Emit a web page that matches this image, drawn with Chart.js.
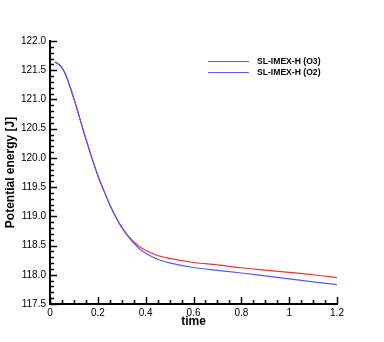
<!DOCTYPE html>
<html>
<head>
<meta charset="utf-8">
<script src="https://cdn.jsdelivr.net/npm/chart.js@4/dist/chart.umd.min.js"></script>
<style>
html,body{margin:0;padding:0;background:#fff;}
#wrap{width:384px;height:342px;}
</style>
</head>
<body>
<div id="wrap"><canvas id="c" width="384" height="342"></canvas></div>
<script>
const time = [0.02,0.03,0.04,0.05,0.06,0.07,0.08,0.09,0.10,0.11,0.12,0.13,0.14,0.15,0.175,0.20,0.225,0.25,0.275,0.30,0.325,0.35,0.375,0.40,0.45,0.50,0.60,0.70,0.80,0.90,1.00,1.10,1.20];
const o3   = [121.64,121.62,121.59,121.54,121.47,121.38,121.26,121.14,121.01,120.88,120.74,120.60,120.46,120.325,120.00,119.70,119.44,119.20,118.99,118.815,118.675,118.565,118.48,118.42,118.33,118.28,118.21,118.17,118.12,118.08,118.04,118.00,117.95];
const o2   = [121.64,121.62,121.59,121.54,121.47,121.38,121.26,121.14,121.01,120.88,120.74,120.60,120.46,120.325,120.00,119.70,119.44,119.20,118.99,118.81,118.665,118.54,118.44,118.37,118.265,118.205,118.125,118.075,118.03,117.98,117.93,117.88,117.83];
const seriesLabels = ['SL-IMEX-H (O3)','SL-IMEX-H (O2)'];
const xTicks = [0,0.2,0.4,0.6,0.8,1.0,1.2];
const yTicks = [117.5,118.0,118.5,119.0,119.5,120.0,120.5,121.0,121.5,122.0];

const FONT = '"Liberation Sans", Arial, Helvetica, sans-serif';
const pts = (ys) => time.map((t,i)=>({x:t,y:ys[i]}));

const inwardTicks = {
  id:'inwardTicks',
  afterDatasetsDraw(chart){
    const {ctx, chartArea:a, scales:{x,y}} = chart;
    ctx.save();
    ctx.strokeStyle='#000';
    ctx.lineWidth=1.5;
    for(let i=0;i<=24;i++){
      const v=i*0.05; const px=Math.round(x.getPixelForValue(v))+0.5;
      const len = (i%4===0)?7:4;
      ctx.beginPath(); ctx.moveTo(px,a.bottom); ctx.lineTo(px,a.bottom-len); ctx.stroke();
    }
    for(let i=0;i<=45;i++){
      const v=117.5+i*0.1; const py=Math.round(y.getPixelForValue(v))+0.5;
      const len = (i%5===0)?7:4;
      ctx.beginPath(); ctx.moveTo(a.left,py); ctx.lineTo(a.left+len,py); ctx.stroke();
    }
    // legend
    ctx.font = 'bold 8.6px ' + FONT;
    ctx.textBaseline='middle';
    chart.data.datasets.forEach((ds,i)=>{
      const yy = 61 + i*11;
      ctx.strokeStyle = ds.borderColor; ctx.lineWidth=1.2;
      ctx.beginPath(); ctx.moveTo(208,yy+0.5); ctx.lineTo(249,yy+0.5); ctx.stroke();
      ctx.fillStyle='#000';
      ctx.fillText(ds.label, 257, yy+0.5);
    });
    ctx.restore();
  }
};

new Chart(document.getElementById('c'), {
  type:'line',
  data:{
    datasets:[
      {label:seriesLabels[0], data:pts(o3), order:1, borderColor:'rgb(232,52,52)', borderWidth:1.2, pointRadius:0, cubicInterpolationMode:'monotone', fill:false},
      {label:seriesLabels[1], data:pts(o2), order:0, borderColor:'rgb(88,88,245)', borderWidth:1.2, pointRadius:0, cubicInterpolationMode:'monotone', fill:false}
    ]
  },
  options:{
    responsive:false,
    animation:false,
    devicePixelRatio:1,
    layout:{padding:{left:0,top:41,right:47,bottom:0}},
    plugins:{legend:{display:false}, tooltip:{enabled:false}},
    scales:{
      x:{
        type:'linear', min:0, max:1.2,
        afterFit(s){ s.height = 38; },
        afterBuildTicks(s){ s.ticks = xTicks.map(v=>({value:v})); },
        grid:{display:true, drawOnChartArea:false, drawTicks:false},
        border:{display:true, color:'#000', width:2},
        ticks:{padding:3, color:'#000', font:{family:FONT, size:10}, maxRotation:0,
          callback:(v)=>String(Number(v.toFixed(1)))},
        title:{display:true, text:'time', color:'#000', font:{family:FONT, size:12, weight:'bold'}, padding:{top:0,bottom:13}}
      },
      y:{
        type:'linear', min:117.5, max:122,
        afterFit(s){ s.width = 50; },
        afterBuildTicks(s){ s.ticks = yTicks.map(v=>({value:v})); },
        grid:{display:true, drawOnChartArea:false, drawTicks:false},
        border:{display:true, color:'#000', width:2},
        ticks:{padding:4, color:'#000', font:{family:FONT, size:10},
          callback:(v)=>Number(v).toFixed(1)},
        title:{display:true, text:'Potential energy [J]', color:'#000', font:{family:FONT, size:12, weight:'bold'}, padding:{top:3,bottom:0}}
      }
    }
  },
  plugins:[inwardTicks]
});
</script>
</body>
</html>
